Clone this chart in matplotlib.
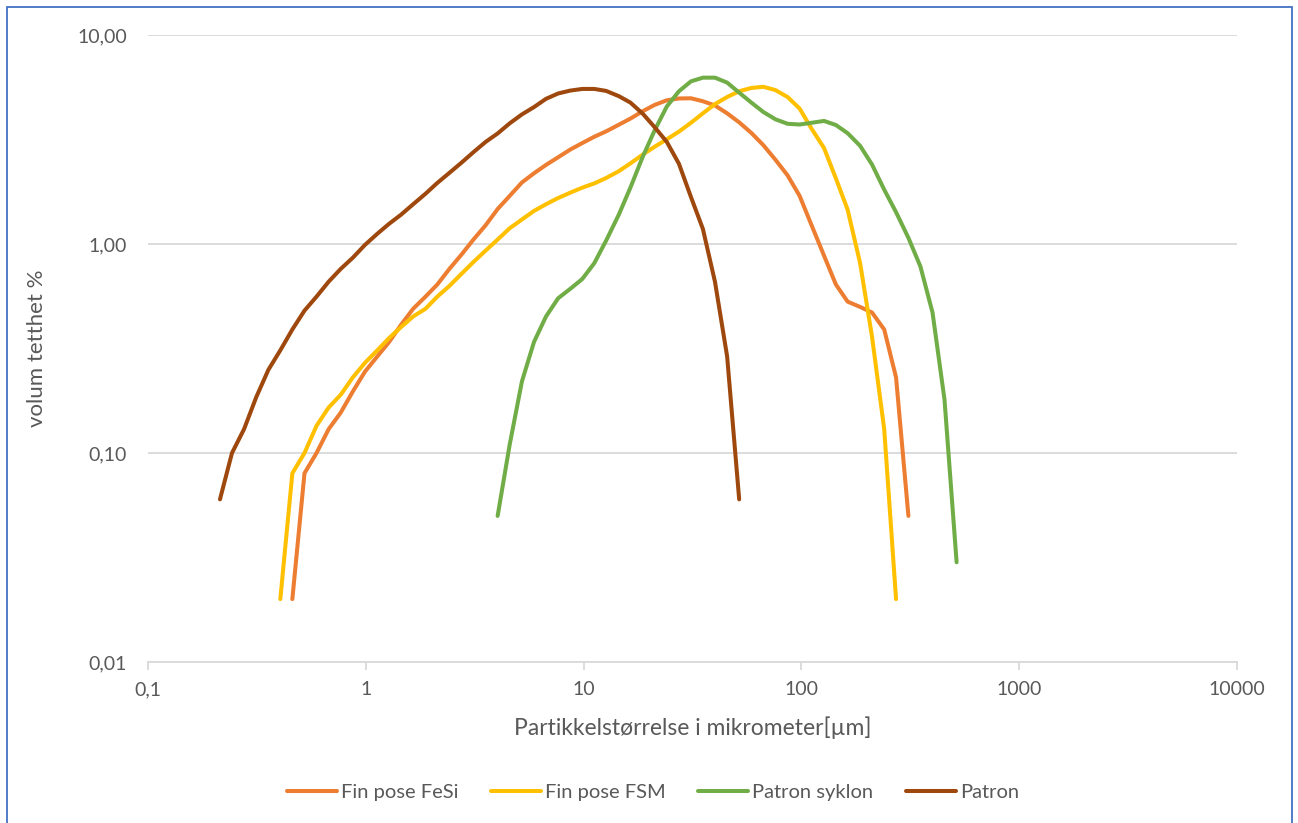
import matplotlib.pyplot as plt
from matplotlib.patches import Rectangle

# -----------------------------
# Data (particle size classes in µm, volume density in %)
# -----------------------------
size_fesi = [0.460, 0.523, 0.594, 0.675, 0.767, 0.872, 0.991, 1.13, 1.28, 1.45,
             1.65, 1.88, 2.13, 2.42, 2.75, 3.12, 3.55, 4.03, 4.58, 5.21,
             5.92, 6.72, 7.64, 8.68, 9.86, 11.2, 12.7, 14.5, 16.4, 18.7,
             21.2, 24.1, 27.4, 31.1, 35.3, 40.1, 45.6, 51.8, 58.9, 66.9,
             76.0, 86.4, 98.1, 111, 127, 144, 163, 186, 211, 240,
             272, 310]
vol_fesi = [0.02, 0.08, 0.10, 0.13, 0.156, 0.197, 0.245, 0.29, 0.34, 0.41,
            0.49, 0.56, 0.64, 0.76, 0.89, 1.05, 1.23, 1.47, 1.70, 1.97,
            2.18, 2.39, 2.60, 2.83, 3.04, 3.26, 3.46, 3.72, 3.98, 4.32,
            4.63, 4.87, 4.97, 4.98, 4.82, 4.60, 4.22, 3.82, 3.40, 2.97,
            2.53, 2.13, 1.70, 1.24, 0.88, 0.64, 0.53, 0.50, 0.47, 0.39,
            0.23, 0.05]

size_fsm = [0.405, 0.460, 0.523, 0.594, 0.675, 0.767, 0.872, 0.991, 1.13, 1.28,
            1.45, 1.65, 1.88, 2.13, 2.42, 2.75, 3.12, 3.55, 4.03, 4.58,
            5.21, 5.92, 6.72, 7.64, 8.68, 9.86, 11.2, 12.7, 14.5, 16.4,
            18.7, 21.2, 24.1, 27.4, 31.1, 35.3, 40.1, 45.6, 51.8, 58.9,
            66.9, 76.0, 86.4, 98.1, 111, 127, 144, 163, 186, 211,
            240, 272]
vol_fsm = [0.02, 0.08, 0.10, 0.135, 0.165, 0.19, 0.23, 0.27, 0.31, 0.355,
           0.40, 0.45, 0.49, 0.56, 0.63, 0.72, 0.82, 0.93, 1.05, 1.19,
           1.31, 1.44, 1.55, 1.66, 1.76, 1.86, 1.95, 2.07, 2.23, 2.43,
           2.68, 2.92, 3.17, 3.45, 3.80, 4.22, 4.67, 5.05, 5.38, 5.58,
           5.65, 5.45, 5.05, 4.45, 3.58, 2.88, 2.06, 1.46, 0.81, 0.36,
           0.13, 0.02]

size_syklon = [4.03, 4.58, 5.21, 5.92, 6.72, 7.64, 8.68, 9.86, 11.2, 12.7,
               14.5, 16.4, 18.7, 21.2, 24.1, 27.4, 31.1, 35.3, 40.1, 45.6,
               51.8, 58.9, 66.9, 76.0, 86.4, 98.1, 111, 127, 144, 163,
               186, 211, 240, 272, 310, 352, 400, 454, 516]
vol_syklon = [0.05, 0.11, 0.22, 0.34, 0.45, 0.55, 0.61, 0.68, 0.81, 1.04,
              1.38, 1.86, 2.62, 3.50, 4.55, 5.38, 6.00, 6.25, 6.25, 5.92,
              5.30, 4.75, 4.28, 3.95, 3.76, 3.73, 3.80, 3.88, 3.71, 3.39,
              2.95, 2.40, 1.82, 1.42, 1.07, 0.78, 0.47, 0.18, 0.03]

size_patron = [0.214, 0.243, 0.276, 0.314, 0.357, 0.405, 0.460, 0.523, 0.594, 0.675,
               0.767, 0.872, 0.991, 1.13, 1.28, 1.45, 1.65, 1.88, 2.13, 2.42,
               2.75, 3.12, 3.55, 4.03, 4.58, 5.21, 5.92, 6.72, 7.64, 8.68,
               9.86, 11.2, 12.7, 14.5, 16.4, 18.7, 21.2, 24.1, 27.4, 31.1,
               35.3, 40.1, 45.6, 51.8]
vol_patron = [0.06, 0.10, 0.13, 0.185, 0.25, 0.31, 0.39, 0.48, 0.56, 0.66,
              0.76, 0.86, 0.99, 1.12, 1.25, 1.38, 1.55, 1.74, 1.96, 2.19,
              2.45, 2.75, 3.08, 3.38, 3.78, 4.17, 4.52, 4.95, 5.25, 5.42,
              5.52, 5.52, 5.40, 5.10, 4.75, 4.20, 3.62, 3.08, 2.42, 1.68,
              1.18, 0.66, 0.29, 0.06]

series = [
    ("Fin pose FeSi", size_fesi, vol_fesi, "#ED7D31"),
    ("Fin pose FSM", size_fsm, vol_fsm, "#FFC000"),
    ("Patron syklon", size_syklon, vol_syklon, "#70AD47"),
    ("Patron", size_patron, vol_patron, "#9E480E"),
]

x_ticks = [0.1, 1, 10, 100, 1000, 10000]
x_labels = ["0,1", "1", "10", "100", "1000", "10000"]
y_ticks = [0.01, 0.1, 1, 10]
y_labels = ["0,01", "0,10", "1,00", "10,00"]

plt.rcParams['font.family'] = ['Lato', 'DejaVu Sans']
text_color = "#595959"
grid_color = "#d9d9d9"

fig = plt.figure(figsize=(12.98, 8.23), dpi=100)
ax = fig.add_axes([148 / 1298, 1 - 662 / 823, (1237 - 148) / 1298, (662 - 35) / 823])

for name, xs, ys, col in series:
    ax.plot(xs, ys, color=col, lw=2.9, label=name,
            solid_capstyle='round', solid_joinstyle='round')

ax.set_xscale('log')
ax.set_yscale('log')
ax.set_xlim(0.1, 10000)
ax.set_ylim(0.01, 10)
ax.set_xticks(x_ticks, x_labels)
ax.set_yticks(y_ticks, y_labels)
ax.minorticks_off()

ax.yaxis.grid(True, color=grid_color, lw=1.3)
ax.set_axisbelow(True)
for side in ['left', 'right', 'top']:
    ax.spines[side].set_visible(False)
ax.spines['bottom'].set_color(grid_color)
ax.spines['bottom'].set_linewidth(1.3)

ax.tick_params(axis='x', colors=grid_color, length=6, width=1.3, pad=8,
               labelcolor=text_color, labelsize=14)
ax.tick_params(axis='y', length=0, pad=15, labelcolor=text_color, labelsize=14)

ax.set_xlabel("Partikkelstørrelse i mikrometer[µm]", color=text_color,
              fontsize=16.5, labelpad=13)
ax.set_ylabel("volum tetthet %", color=text_color, fontsize=16, labelpad=22)

fig.legend(loc='center', bbox_to_anchor=(653 / 1298, 1 - 792 / 823), ncol=4,
           frameon=False, fontsize=14.5, handlelength=2.5, handletextpad=0.2,
           columnspacing=1.6, labelcolor=text_color)

# blue frame around the chart area
fig.patches.append(Rectangle((7 / 1298, -0.05), (1292 - 7) / 1298, 1.05 - 7 / 823,
                             transform=fig.transFigure, fill=False,
                             edgecolor="#4472C4", lw=1.3))

fig.savefig("out.png", dpi=100)
